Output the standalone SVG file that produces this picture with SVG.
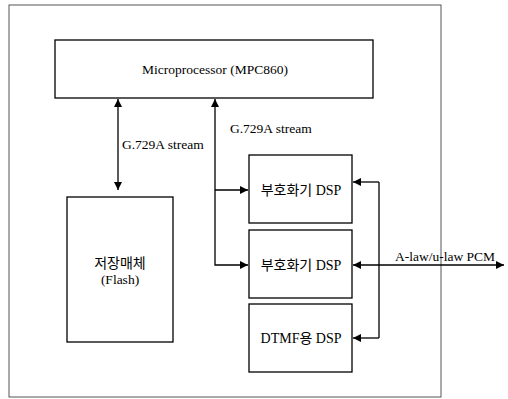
<svg xmlns="http://www.w3.org/2000/svg" width="508" height="399" viewBox="0 0 508 399">
<defs>
<marker id="ah" viewBox="0 0 10 10" refX="10" refY="5" markerWidth="8" markerHeight="8" markerUnits="userSpaceOnUse" orient="auto-start-reverse">
<path d="M0,0 L10,5 L0,10 Z" fill="#000"/>
</marker>
<style>
.box{fill:#fff;stroke:#000;stroke-width:1.3}
.frame{fill:none;stroke:#555;stroke-width:1}
.ln{fill:none;stroke:#000;stroke-width:1.3}
.t{font-family:"Liberation Serif","Noto Sans CJK KR",serif;font-size:13.5px;fill:#000}
.k{font-family:"Liberation Serif","Noto Sans CJK KR",serif;font-size:14px;fill:#000}
</style>
</defs>
<rect class="frame" x="9" y="5" width="432" height="392"/>
<g id="connectors">
<line class="ln" x1="118" y1="99" x2="118" y2="190" marker-start="url(#ah)" marker-end="url(#ah)"/>
<polyline class="ln" points="215,99 215,265 248,265" marker-start="url(#ah)" marker-end="url(#ah)"/>
<line class="ln" x1="215" y1="190" x2="248" y2="190" marker-end="url(#ah)"/>
<polyline class="ln" points="379,182 379,338"/>
<line class="ln" x1="379" y1="182" x2="353" y2="182" marker-end="url(#ah)"/>
<line class="ln" x1="379" y1="338" x2="353" y2="338" marker-end="url(#ah)"/>
<line class="ln" x1="353" y1="265" x2="504" y2="265" marker-start="url(#ah)" marker-end="url(#ah)"/>
<text class="t" x="122" y="149">G.729A stream</text>
<text class="t" x="230" y="133">G.729A stream</text>
<text class="t" x="395" y="261">A-law/u-law PCM</text>
</g>
<g id="mpu">
<rect class="box" x="55" y="40" width="318" height="58"/>
<text class="t" x="215" y="74" text-anchor="middle">Microprocessor (MPC860)</text>
</g>
<g id="flash">
<rect class="box" x="67" y="197" width="106" height="145"/>
<text class="k" x="120" y="268" text-anchor="middle">저장매체</text>
<text class="t" x="120" y="284" text-anchor="middle">(Flash)</text>
</g>
<g id="dsp1">
<rect class="box" x="249" y="155" width="103" height="68"/>
<text class="k" x="301" y="195" text-anchor="middle">부호화기 DSP</text>
</g>
<g id="dsp2">
<rect class="box" x="249" y="230" width="103" height="68"/>
<text class="k" x="301" y="270" text-anchor="middle">부호화기 DSP</text>
</g>
<g id="dsp3">
<rect class="box" x="249" y="304" width="103" height="68"/>
<text class="k" x="301" y="343" text-anchor="middle">DTMF용 DSP</text>
</g>
</svg>
